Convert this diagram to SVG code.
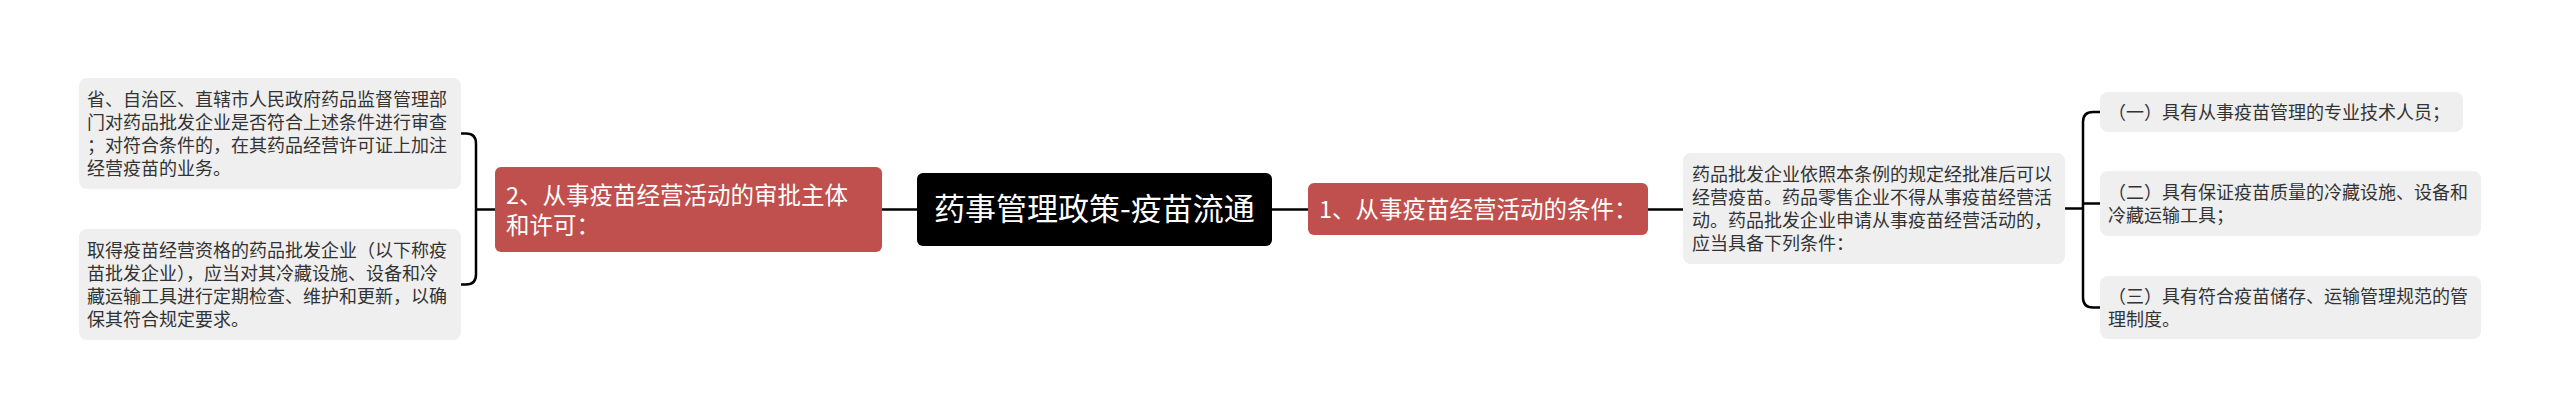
<svg xmlns="http://www.w3.org/2000/svg" width="2560" height="419" viewBox="0 0 2560 419">
<style>
text{font-family:"Noto Sans CJK SC","Noto Sans",sans-serif;}
.g rect{fill:#EFEFEF;}
.g text{fill:#333333;font-size:18px;}
.r rect{fill:#C0504D;}
.r text{fill:#FFFFFF;font-size:23.5px;}
.c rect{fill:#000000;}
.c text{fill:#FFFFFF;font-size:31px;}
#connectors path{fill:none;stroke:#000000;stroke-width:2.5;}
</style>
<rect width="2560" height="419" fill="#FFFFFF"/>
<g id="connectors">
<path d="M917 209.5 H882"/>
<path d="M495 209.5 H476"/>
<path d="M461 133.5 H466 Q476 133.5 476 143.5 V274.5 Q476 284.5 466 284.5 H461"/>
<path d="M1272 209.5 H1308"/>
<path d="M1648 209.5 H1683"/>
<path d="M2065 208.5 H2083"/>
<path d="M2100 112 H2093 Q2083 112 2083 122 V297.5 Q2083 307.5 2093 307.5 H2100"/>
<path d="M2083 203.5 H2100"/>
</g>
<g id="central" class="c">
<rect x="917" y="173" width="355" height="73" rx="6"/>
<text x="1094.5" y="220" text-anchor="middle">药事管理政策-疫苗流通</text>
</g>
<g id="branch-approval" class="r">
<rect x="495" y="167" width="387" height="85" rx="6"/>
<text x="506" y="203.5">2、从事疫苗经营活动的审批主体</text>
<text x="506" y="233.5">和许可：</text>
</g>
<g id="leaf-review" class="g">
<rect x="79" y="78" width="382" height="111" rx="8"/>
<text x="87" y="105.8">省、自治区、直辖市人民政府药品监督管理部</text>
<text x="87" y="128.8">门对药品批发企业是否符合上述条件进行审查</text>
<text x="87" y="151.8">；对符合条件的，在其药品经营许可证上加注</text>
<text x="87" y="174.8">经营疫苗的业务。</text>
</g>
<g id="leaf-qualified" class="g">
<rect x="79" y="229" width="382" height="111" rx="8"/>
<text x="87" y="256.8">取得疫苗经营资格的药品批发企业（以下称疫</text>
<text x="87" y="279.8">苗批发企业），应当对其冷藏设施、设备和冷</text>
<text x="87" y="302.8">藏运输工具进行定期检查、维护和更新，以确</text>
<text x="87" y="325.8">保其符合规定要求。</text>
</g>
<g id="branch-conditions" class="r">
<rect x="1308" y="183" width="340" height="52" rx="6"/>
<text x="1319" y="218">1、从事疫苗经营活动的条件：</text>
</g>
<g id="leaf-wholesale" class="g">
<rect x="1683" y="153" width="382" height="111" rx="8"/>
<text x="1692" y="180.8">药品批发企业依照本条例的规定经批准后可以</text>
<text x="1692" y="203.8">经营疫苗。药品零售企业不得从事疫苗经营活</text>
<text x="1692" y="226.8">动。药品批发企业申请从事疫苗经营活动的，</text>
<text x="1692" y="249.8">应当具备下列条件：</text>
</g>
<g id="cond-1" class="g">
<rect x="2100" y="92" width="363" height="40" rx="8"/>
<text x="2108" y="119">（一）具有从事疫苗管理的专业技术人员；</text>
</g>
<g id="cond-2" class="g">
<rect x="2100" y="171" width="381" height="65" rx="8"/>
<text x="2108" y="198.8">（二）具有保证疫苗质量的冷藏设施、设备和</text>
<text x="2108" y="221.8">冷藏运输工具；</text>
</g>
<g id="cond-3" class="g">
<rect x="2100" y="276" width="381" height="63" rx="8"/>
<text x="2108" y="302.8">（三）具有符合疫苗储存、运输管理规范的管</text>
<text x="2108" y="325.8">理制度。</text>
</g>
</svg>
